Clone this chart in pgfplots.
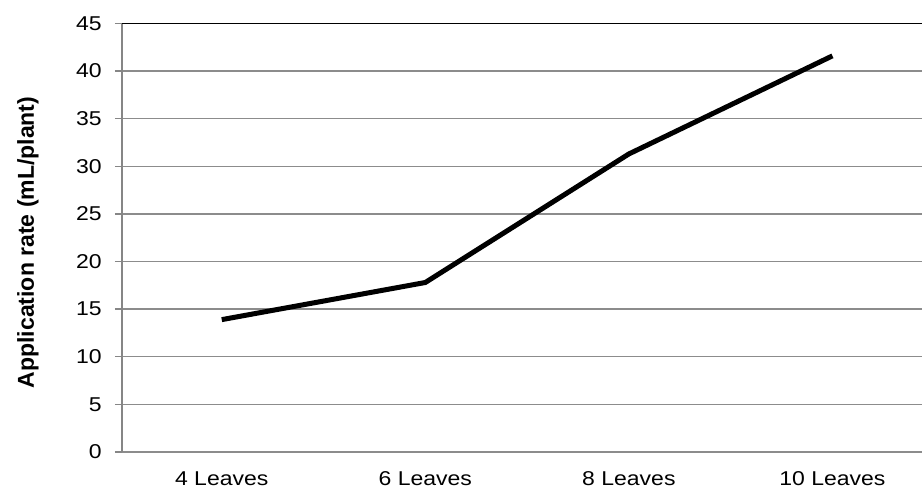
\documentclass[border=0pt]{standalone}
\usepackage{pgfplots}
\pgfplotsset{compat=1.18}
\usepackage{fontspec}
\setmainfont{Liberation Sans}
\definecolor{gridgray}{HTML}{8C8C8C}
\definecolor{axisgray}{HTML}{868686}
\begin{document}
\begin{tikzpicture}
\begin{axis}[
  at={(0pt,0pt)}, anchor=south west,
  scale only axis, width=800pt, height=428.5pt,
  xmin=-0.49, xmax=3.44,
  ymin=0, ymax=45,
  ytick={0,5,...,45},
  xtick={0,1,2,3},
  xticklabels={4 Leaves,6 Leaves,8 Leaves,10 Leaves},
  major x tick style={draw=none},
  ymajorgrids,
  grid style={gridgray, line width=1.4pt},
  axis x line*=bottom,
  axis y line*=left,
  x axis line style={gridgray, line width=1.4pt, -},
  y axis line style={axisgray, line width=1.6pt, -},
  y tick style={axisgray, line width=1.4pt},
  tick align=outside,
  major tick length=7pt,
  ticklabel style={font=\fontsize{20}{24}\selectfont, text=black, xscale=1.15},
  /pgf/number format/assume math mode=true,
  yticklabel style={xshift=-8pt},
  xticklabel style={yshift=-9pt},
  ylabel={\textbf{Application rate (mL/plant)}},
  ylabel style={font=\fontsize{23}{27}\selectfont, at={(axis description cs:-0.1175,0.489)}, anchor=center},
  clip=false,
]
\addplot[black, line width=5pt, line join=round] coordinates {
  (0,13.9) (1,17.8) (2,31.3) (3,41.6)
};
\draw[black, line width=1.6pt] (axis cs:-0.49,45) -- (axis cs:3.44,45);
\end{axis}
\pgfresetboundingbox
\useasboundingbox (-122pt,-40pt) rectangle (800pt,452pt);
\end{tikzpicture}
\end{document}
